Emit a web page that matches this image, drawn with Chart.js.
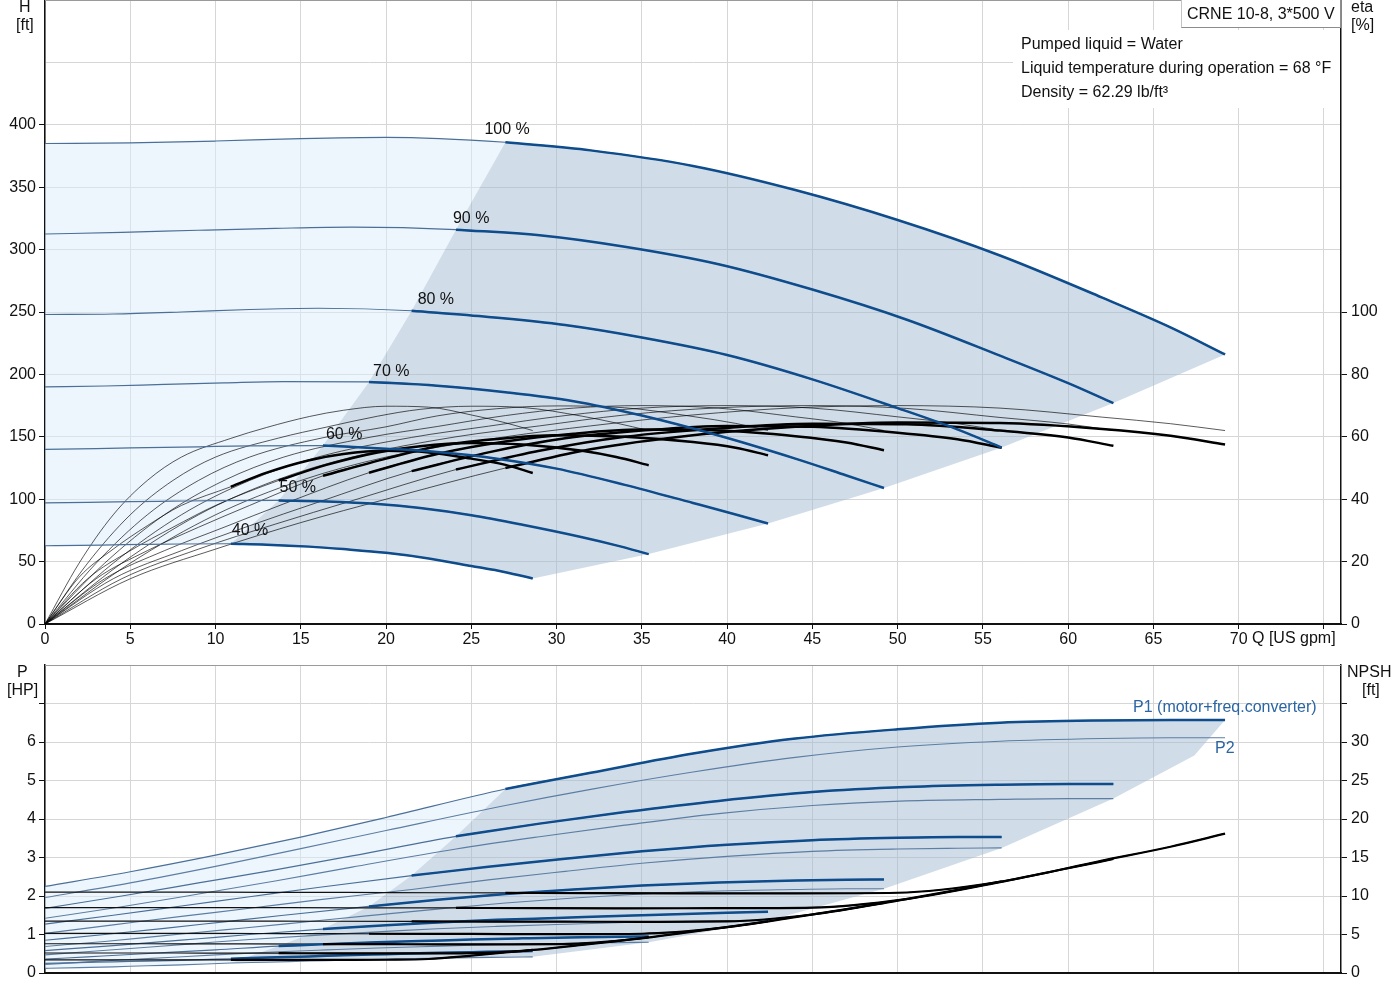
<!DOCTYPE html>
<html>
<head>
<meta charset="utf-8">
<title>CRNE 10-8 pump curves</title>
<script src="https://cdn.jsdelivr.net/npm/chart.js@4.4.1/dist/chart.umd.min.js"></script>
<style>
  body { margin: 0; background: #fff; width: 1400px; height: 1000px; position: relative; overflow: hidden;
         font-family: "Liberation Sans", Arial, sans-serif; }
  canvas { position: absolute; left: 0; }
  #headChart { top: 0; }
  #powerChart { top: 655px; }
  .t { position: absolute; font-size: 16px; line-height: 18px; color: #111; white-space: nowrap; }
  .box { position: absolute; left: 1181px; top: -1px; width: 153px; height: 27px; padding-left: 5px;
         background: #fff; border: 1px solid #c4c4c4; border-right-color: #8c8c8c; border-bottom-color: #8c8c8c;
         font-size: 16px; line-height: 27px; color: #111; white-space: nowrap; }
</style>
</head>
<body>
<canvas id="headChart" width="1400" height="660"></canvas>
<canvas id="powerChart" width="1400" height="345"></canvas>

<div class="t" style="left:19px;top:-2px">H</div>
<div class="t" style="left:16px;top:16px">[ft]</div>
<div class="t" style="left:1351px;top:-2px">eta</div>
<div class="t" style="left:1351px;top:16px">[%]</div>
<div class="box">CRNE 10-8, 3*500 V</div>
<div class="t" style="left:1021px;top:35px">Pumped liquid = Water</div>
<div class="t" style="left:1021px;top:59px">Liquid temperature during operation = 68 °F</div>
<div class="t" style="left:1021px;top:83px">Density = 62.29 lb/ft³</div>
<div class="t" style="left:1252px;top:629px">Q [US gpm]</div>
<div class="t" style="left:17px;top:663px">P</div>
<div class="t" style="left:7px;top:681px">[HP]</div>
<div class="t" style="left:1347px;top:663px">NPSH</div>
<div class="t" style="left:1362px;top:681px">[ft]</div>

<script>
// ---- data ----
const speedLabels = ['100 %', '90 %', '80 %', '70 %', '60 %', '50 %', '40 %'];

// flow points per speed [US gpm]; index 5 is where the operating range starts
const q100 = [0, 5, 10, 15, 20, 27, 32, 38, 44, 50, 56, 62, 66, 69.2];
const q90  = [0, 4.5, 9, 13.5, 18, 24.1, 29, 34, 39.5, 45, 50.5, 56, 60, 62.65];
const q80  = [0, 4, 8, 12, 16, 21.5, 26, 30.5, 35, 40, 45, 50, 53.5, 56.1];
const q70  = [0, 3.5, 7, 10.5, 14, 19, 23, 27, 31, 35, 39.5, 44, 47, 49.2];
const q60  = [0, 3, 6, 9, 12, 16.3, 20, 23, 26.5, 30, 34, 38, 40.5, 42.4];
const q50  = [0, 2.5, 5, 7.5, 10, 13.7, 16.5, 19.5, 22, 25, 28, 31.5, 33.5, 35.4];
const q40  = [0, 2, 4, 6, 8, 10.9, 13, 15.5, 17.5, 20, 22.5, 25, 27, 28.6];

// head H [ft]
const h100 = [385, 385.5, 387, 389, 390, 386, 379.5, 367, 347.7, 323.7, 295.3, 261.5, 237.7, 216];
const h90  = [312.5, 313.8, 315.5, 317, 318, 316, 311.5, 302.3, 288.3, 268, 244, 215, 193, 177];
const h80  = [248, 248.4, 250, 252, 253, 251, 246, 239.5, 229.5, 215.5, 196, 173, 156, 141.4];
const h70  = [190, 190.7, 192, 193.2, 194.2, 194, 191, 185.7, 178.5, 167, 151, 132.5, 119, 109];
const h60  = [140, 140.6, 141.3, 142, 142.7, 143, 140.5, 137.8, 132.5, 124.5, 111.5, 97, 87.8, 80.5];
const h50  = [97, 97.5, 98, 98.4, 98.8, 99, 98.2, 96.2, 93, 87.2, 79.5, 69.5, 63, 56];
const h40  = [62.7, 63, 63.4, 63.8, 64.1, 64.3, 63.6, 62, 60, 57, 52.5, 46.5, 41.5, 36.5];

// pump efficiency [%] (thin lines)
const etaP100 = [0, 19.5, 35, 46, 53.5, 60, 63.5, 67, 69.3, 70, 69.2, 66.3, 64.2, 62];
const etaP90  = [0, 19.5, 35, 46, 53.5, 60, 63.5, 67, 69.3, 70, 69.1, 66.2, 64.1, 62];
const etaP80  = [0, 19.5, 35, 46, 53.5, 59.8, 63.4, 66.8, 69.2, 70, 69.2, 66.4, 64.2, 62];
const etaP70  = [0, 19.5, 35, 46, 53.5, 59.8, 63.3, 66.8, 69.2, 70, 69.2, 66.4, 64.3, 62];
const etaP60  = [0, 19.5, 35, 46, 53.5, 59.7, 63.2, 66.7, 69, 69.9, 69.3, 66.5, 64.3, 62];
const etaP50  = [0, 19.5, 35, 46, 53.5, 59.6, 63.1, 66.6, 68.8, 69.8, 69.4, 66.6, 64.4, 62];
const etaP40  = [0, 19.5, 35, 46, 53.5, 59.5, 63, 66.5, 68.5, 69.8, 69.5, 67, 64.5, 62];

// total efficiency [%] (thick in the operating range)
const etaT100 = [0, 14.5, 24, 32.5, 40, 50, 56, 60.5, 63.2, 64.6, 64.4, 62.5, 60.3, 57.5];
const etaT90  = [0, 14.5, 24, 32, 39.5, 49.5, 55.5, 60, 62.7, 64.2, 64, 62, 59.8, 57.1];
const etaT80  = [0, 14.5, 23.5, 31.5, 39, 49, 55, 59.5, 62, 63.5, 63.2, 61.3, 59.2, 56.5];
const etaT70  = [0, 14.5, 23.5, 31, 38.5, 48.5, 54.5, 58.5, 61, 62.3, 62, 60.2, 58.2, 55.7];
const etaT60  = [0, 14.5, 23.5, 31, 38, 47.5, 53, 57, 59.3, 60.5, 60, 58.3, 56.5, 54.1];
const etaT50  = [0, 14.5, 23.5, 31, 38, 46, 51, 55, 57, 58, 57.5, 55.5, 53.5, 50.9];
const etaT40  = [0, 15, 24, 31.5, 38, 44, 48.5, 52.5, 54.5, 55.5, 55, 53, 51, 48.4];

// P1 (motor + freq. converter) [HP]
const p1_100 = [2.25, 2.63, 3.06, 3.53, 4.04, 4.78, 5.2, 5.7, 6.09, 6.33, 6.5, 6.56, 6.57, 6.57];
const p1_90  = [1.68, 2.0, 2.34, 2.68, 3.04, 3.55, 3.88, 4.18, 4.47, 4.7, 4.83, 4.89, 4.91, 4.91];
const p1_80  = [1.27, 1.5, 1.74, 1.98, 2.22, 2.53, 2.76, 2.97, 3.16, 3.33, 3.45, 3.51, 3.53, 3.53];
const p1_70  = [0.85, 1.0, 1.16, 1.33, 1.5, 1.73, 1.9, 2.05, 2.17, 2.27, 2.35, 2.4, 2.42, 2.43];
const p1_60  = [0.58, 0.68, 0.78, 0.89, 1.0, 1.14, 1.24, 1.31, 1.38, 1.43, 1.49, 1.54, 1.57, 1.59];
const p1_50  = [0.36, 0.42, 0.48, 0.54, 0.6, 0.7, 0.75, 0.8, 0.83, 0.87, 0.9, 0.93, 0.94, 0.95];
const p1_40  = [0.25, 0.27, 0.29, 0.31, 0.33, 0.37, 0.4, 0.43, 0.46, 0.49, 0.52, 0.54, 0.56, 0.57];

// P2 (shaft) [HP]
const p2_100 = [1.96, 2.34, 2.77, 3.23, 3.7, 4.35, 4.77, 5.22, 5.6, 5.87, 6.02, 6.09, 6.11, 6.11];
const p2_90  = [1.42, 1.72, 2.05, 2.39, 2.75, 3.22, 3.54, 3.84, 4.14, 4.35, 4.47, 4.51, 4.53, 4.53];
const p2_80  = [1.03, 1.25, 1.47, 1.68, 1.9, 2.17, 2.42, 2.64, 2.85, 3.03, 3.16, 3.22, 3.24, 3.25];
const p2_70  = [0.69, 0.82, 0.97, 1.12, 1.27, 1.49, 1.66, 1.82, 1.95, 2.05, 2.13, 2.17, 2.19, 2.19];
const p2_60  = [0.47, 0.57, 0.67, 0.77, 0.87, 0.99, 1.08, 1.15, 1.21, 1.26, 1.31, 1.34, 1.355, 1.36];
const p2_50  = [0.22, 0.29, 0.35, 0.41, 0.47, 0.55, 0.6, 0.65, 0.68, 0.72, 0.75, 0.78, 0.79, 0.8];
const p2_40  = [0.12, 0.14, 0.16, 0.19, 0.21, 0.26, 0.28, 0.31, 0.33, 0.36, 0.38, 0.4, 0.41, 0.42];

// NPSH [ft]
const npsh100 = [10.5, 10.5, 10.5, 10.47, 10.45, 10.4, 10.37, 10.35, 10.35, 10.42, 11.85, 14.6, 16.4, 18.1];
const npsh90  = [8.5, 8.5, 8.5, 8.48, 8.47, 8.45, 8.42, 8.4, 8.42, 8.5, 9.6, 11.8, 13.6, 14.8];
const npsh80  = [6.75, 6.75, 6.75, 6.73, 6.72, 6.7, 6.68, 6.66, 6.65, 6.7, 7.6, 9.4, 10.8, 11.9];
const npsh70  = [5.15, 5.15, 5.15, 5.14, 5.12, 5.1, 5.08, 5.06, 5.05, 5.1, 5.82, 7.25, 8.3, 9.1];
const npsh60  = [3.8, 3.8, 3.8, 3.79, 3.78, 3.76, 3.74, 3.72, 3.72, 3.74, 4.28, 5.38, 6.12, 6.72];
const npsh50  = [2.6, 2.6, 2.6, 2.6, 2.59, 2.57, 2.55, 2.54, 2.54, 2.58, 2.87, 3.66, 4.15, 4.65];
const npsh40  = [1.7, 1.7, 1.7, 1.7, 1.7, 1.7, 1.7, 1.7, 1.7, 1.72, 1.82, 2.26, 2.66, 3.0];

// edges of the shaded power area
const pMinQ = [27, 24.1, 21.5, 19, 16.3, 13.7, 10.9];
const pMin  = [4.78, 3.55, 2.53, 1.73, 1.14, 0.7, 0.26];
const pMaxQ = [69.2, 67.4, 62.65, 56.1, 49.2, 42.4, 35.4, 28.6];
const pMax  = [6.57, 5.65, 4.53, 3.25, 2.19, 1.36, 0.8, 0.42];

// axis ticks
const qTicks = [0, 5, 10, 15, 20, 25, 30, 35, 40, 45, 50, 55, 60, 65, 70, 75];
const qTickLabels = ['0', '5', '10', '15', '20', '25', '30', '35', '40', '45', '50', '55', '60', '65', '70', ''];
const hTicks = [0, 50, 100, 150, 200, 250, 300, 350, 400, 450];
const hTickLabels = ['0', '50', '100', '150', '200', '250', '300', '350', '400', ''];
const etaTicks = [0, 20, 40, 60, 80, 100];
const etaTickLabels = ['0', '20', '40', '60', '80', '100'];
const pTicks = [0, 1, 2, 3, 4, 5, 6, 7];
const pTickLabels = ['0', '1', '2', '3', '4', '5', '6', ''];
const npshTicks = [0, 5, 10, 15, 20, 25, 30, 35];
const npshTickLabels = ['0', '5', '10', '15', '20', '25', '30', ''];

const speedQ = [q100, q90, q80, q70, q60, q50, q40];
const speedH = [h100, h90, h80, h70, h60, h50, h40];
const speedEtaP = [etaP100, etaP90, etaP80, etaP70, etaP60, etaP50, etaP40];
const speedEtaT = [etaT100, etaT90, etaT80, etaT70, etaT60, etaT50, etaT40];
const speedP1 = [p1_100, p1_90, p1_80, p1_70, p1_60, p1_50, p1_40];
const speedP2 = [p2_100, p2_90, p2_80, p2_70, p2_60, p2_50, p2_40];
const speedNpsh = [npsh100, npsh90, npsh80, npsh70, npsh60, npsh50, npsh40];

const START = 5;
const LAST = q100.length - 1;

// ---- helpers ----
const BLUE = '#0e4c8c';
const BLUE_THIN = '#4a6f99';
const FONT = '"Liberation Sans", Arial, sans-serif';

Chart.defaults.font.family = FONT;
Chart.defaults.font.size = 16;
Chart.defaults.color = '#111';

function pts(qs, vs, from = 0) {
    return qs.slice(from).map((q, i) => ({ x: q, y: vs[i + from] }));
}

function at(qs, vs, i) {
    return { x: qs[i], y: vs[i] };
}

function curve(data, color, width, order, yAxisID) {
    return {
        data: data,
        borderColor: color,
        borderWidth: width,
        pointRadius: 0,
        fill: false,
        cubicInterpolationMode: 'monotone',
        order: order,
        yAxisID: yAxisID
    };
}

function area(data, color, order, yAxisID) {
    return {
        data: data,
        borderWidth: 0,
        backgroundColor: color,
        pointRadius: 0,
        tension: 0,
        fill: 'shape',
        order: order,
        yAxisID: yAxisID
    };
}

function fixedTicks(values) {
    return function(scale) {
        scale.ticks = values.map(v => ({ value: v }));
    };
}

function fitSize(prop, size) {
    return function(scale) {
        scale[prop] = size;
        scale.paddingTop = 0;
        scale.paddingBottom = 0;
        scale.paddingLeft = 0;
        scale.paddingRight = 0;
    };
}

const gridColor = '#d6d6d6';
const axisColor = '#111';

// ---- top chart: head + efficiency ----
const headLight = [
    ...pts(q100, h100).slice(0, START + 1),
    ...speedQ.slice(1).map((qs, k) => at(qs, speedH[k + 1], START)),
    ...pts(q40, h40).slice(0, START).reverse()
];
const headDark = [
    ...speedQ.map((qs, k) => at(qs, speedH[k], START)).reverse(),
    ...pts(q100, h100, START + 1),
    ...speedQ.slice(1).map((qs, k) => at(qs, speedH[k + 1], LAST)),
    ...pts(q40, h40).slice(START + 1, LAST).reverse()
];

const headSets = [
    area(headLight, 'rgba(221, 237, 251, 0.5)', 30, 'y'),
    area(headDark, 'rgba(161, 185, 209, 0.5)', 29, 'y')
];
speedQ.forEach((qs, k) => {
    headSets.push(curve(pts(qs, speedEtaP[k]), 'rgba(0, 0, 0, 0.72)', 0.9, 12, 'y1'));
    headSets.push(curve(pts(qs, speedEtaT[k]), 'rgba(0, 0, 0, 0.72)', 0.9, 12, 'y1'));
    headSets.push(curve(pts(qs, speedH[k]), BLUE_THIN, 1.2, 11, 'y'));
    headSets.push(curve(pts(qs, speedEtaT[k], START), '#000', 2.5, 3, 'y1'));
    headSets.push(curve(pts(qs, speedH[k], START), BLUE, 2.5, 2, 'y'));
});

const headDecor = {
    id: 'headDecor',
    beforeDatasetsDraw(chart) {
        const { ctx, chartArea } = chart;
        ctx.save();
        // white area behind the liquid data text
        ctx.fillStyle = '#fff';
        ctx.fillRect(1013, 30, 327, 78);
        ctx.strokeStyle = '#9a9a9a';
        ctx.lineWidth = 1;
        ctx.beginPath();
        ctx.moveTo(chartArea.left, chartArea.top + 0.5);
        ctx.lineTo(chartArea.right, chartArea.top + 0.5);
        ctx.stroke();
        ctx.restore();
    },
    afterDatasetsDraw(chart) {
        const { ctx, scales } = chart;
        const offsets = [[-21, -13], [-3, -11], [6, -11], [4, -10], [3, -11], [1, -13], [1, -13]];
        ctx.save();
        ctx.font = '16px ' + FONT;
        ctx.fillStyle = '#111';
        ctx.textBaseline = 'middle';
        speedQ.forEach((qs, k) => {
            const px = scales.x.getPixelForValue(qs[START]);
            const py = scales.y.getPixelForValue(speedH[k][START]);
            ctx.fillText(speedLabels[k], px + offsets[k][0], py + offsets[k][1]);
        });
        ctx.restore();
    }
};

new Chart(document.getElementById('headChart'), {
    type: 'line',
    data: { datasets: headSets },
    plugins: [headDecor],
    options: {
        responsive: false,
        animation: false,
        events: [],
        layout: { padding: { top: 0, left: 0, right: 0, bottom: 0 } },
        plugins: { legend: { display: false }, tooltip: { enabled: false } },
        scales: {
            x: {
                type: 'linear',
                min: 0,
                max: 76,
                afterBuildTicks: fixedTicks(qTicks),
                afterFit: fitSize('height', 36),
                ticks: {
                    autoSkip: false,
                    maxRotation: 0,
                    padding: 1,
                    callback: (v, i) => qTickLabels[i]
                },
                grid: { color: gridColor, tickLength: 5, tickColor: axisColor },
                border: { color: axisColor, width: 2 }
            },
            y: {
                position: 'left',
                min: 0,
                max: 500,
                afterBuildTicks: fixedTicks(hTicks),
                afterFit: fitSize('width', 45),
                ticks: { padding: 3, callback: (v, i) => hTickLabels[i] },
                grid: {
                    color: gridColor,
                    tickLength: 6,
                    tickColor: c => (c.tick && c.tick.value > 400 ? 'rgba(0,0,0,0)' : axisColor)
                },
                border: { color: axisColor, width: 1.5 }
            },
            y1: {
                position: 'right',
                min: 0,
                max: 200,
                afterBuildTicks: fixedTicks(etaTicks),
                afterFit: fitSize('width', 59),
                ticks: { padding: 4, callback: (v, i) => etaTickLabels[i] },
                grid: { drawOnChartArea: false, tickLength: 6, tickColor: axisColor },
                border: { color: axisColor, width: 1.5 }
            }
        }
    }
});

// ---- bottom chart: power + NPSH ----
const powerLight = [
    ...pts(q100, p1_100).slice(0, START + 1),
    ...pts(pMinQ, pMin).slice(1),
    ...pts(q40, p2_40).slice(0, START).reverse()
];
const powerDark = [
    ...pts(pMinQ, pMin).reverse(),
    ...pts(q100, p1_100, START + 1),
    ...pts(pMaxQ, pMax).slice(1),
    ...pts(q40, p2_40).slice(START + 1, LAST).reverse()
];

const powerSets = [
    area(powerLight, 'rgba(221, 237, 251, 0.5)', 30, 'y'),
    area(powerDark, 'rgba(161, 185, 209, 0.5)', 29, 'y')
];
speedQ.forEach((qs, k) => {
    powerSets.push(curve(pts(qs, speedP2[k]), '#5d7ea4', 1.1, 12, 'y'));
    powerSets.push(curve(pts(qs, speedP1[k]), BLUE_THIN, 1.2, 11, 'y'));
    powerSets.push(curve(pts(qs, speedNpsh[k]), '#111', 1.2, 10, 'y1'));
    powerSets.push(curve(pts(qs, speedP1[k], START), BLUE, 2.5, 3, 'y'));
    powerSets.push(curve(pts(qs, speedNpsh[k], START), '#000', 2.2, 2, 'y1'));
});

const powerDecor = {
    id: 'powerDecor',
    beforeDatasetsDraw(chart) {
        const { ctx, chartArea } = chart;
        ctx.save();
        ctx.strokeStyle = '#9a9a9a';
        ctx.lineWidth = 1;
        ctx.beginPath();
        ctx.moveTo(chartArea.left, chartArea.top + 0.5);
        ctx.lineTo(chartArea.right, chartArea.top + 0.5);
        ctx.stroke();
        ctx.restore();
    },
    afterDatasetsDraw(chart) {
        const { ctx, scales } = chart;
        const x = scales.x.getPixelForValue(q100[LAST]);
        ctx.save();
        ctx.font = '16px ' + FONT;
        ctx.fillStyle = '#2b65a3';
        ctx.textBaseline = 'middle';
        ctx.fillText('P1 (motor+freq.converter)', x - 92, scales.y.getPixelForValue(p1_100[LAST]) - 12);
        ctx.fillText('P2', x - 10, scales.y.getPixelForValue(p2_100[LAST]) + 11);
        ctx.restore();
    }
};

new Chart(document.getElementById('powerChart'), {
    type: 'line',
    data: { datasets: powerSets },
    plugins: [powerDecor],
    options: {
        responsive: false,
        animation: false,
        events: [],
        layout: { padding: { top: 10, left: 0, right: 0, bottom: 0 } },
        plugins: { legend: { display: false }, tooltip: { enabled: false } },
        scales: {
            x: {
                type: 'linear',
                min: 0,
                max: 76,
                afterBuildTicks: fixedTicks(qTicks),
                afterFit: fitSize('height', 27),
                ticks: { display: false },
                grid: { color: gridColor, drawTicks: false },
                border: { color: axisColor, width: 2 }
            },
            y: {
                position: 'left',
                min: 0,
                max: 8,
                afterBuildTicks: fixedTicks(pTicks),
                afterFit: fitSize('width', 45),
                ticks: { padding: 3, callback: (v, i) => pTickLabels[i] },
                grid: { color: gridColor, tickLength: 6, tickColor: axisColor },
                border: { color: axisColor, width: 1.5 }
            },
            y1: {
                position: 'right',
                min: 0,
                max: 40,
                afterBuildTicks: fixedTicks(npshTicks),
                afterFit: fitSize('width', 59),
                ticks: { padding: 4, callback: (v, i) => npshTickLabels[i] },
                grid: { drawOnChartArea: false, tickLength: 6, tickColor: axisColor },
                border: { color: axisColor, width: 1.5 }
            }
        }
    }
});
</script>
</body>
</html>
